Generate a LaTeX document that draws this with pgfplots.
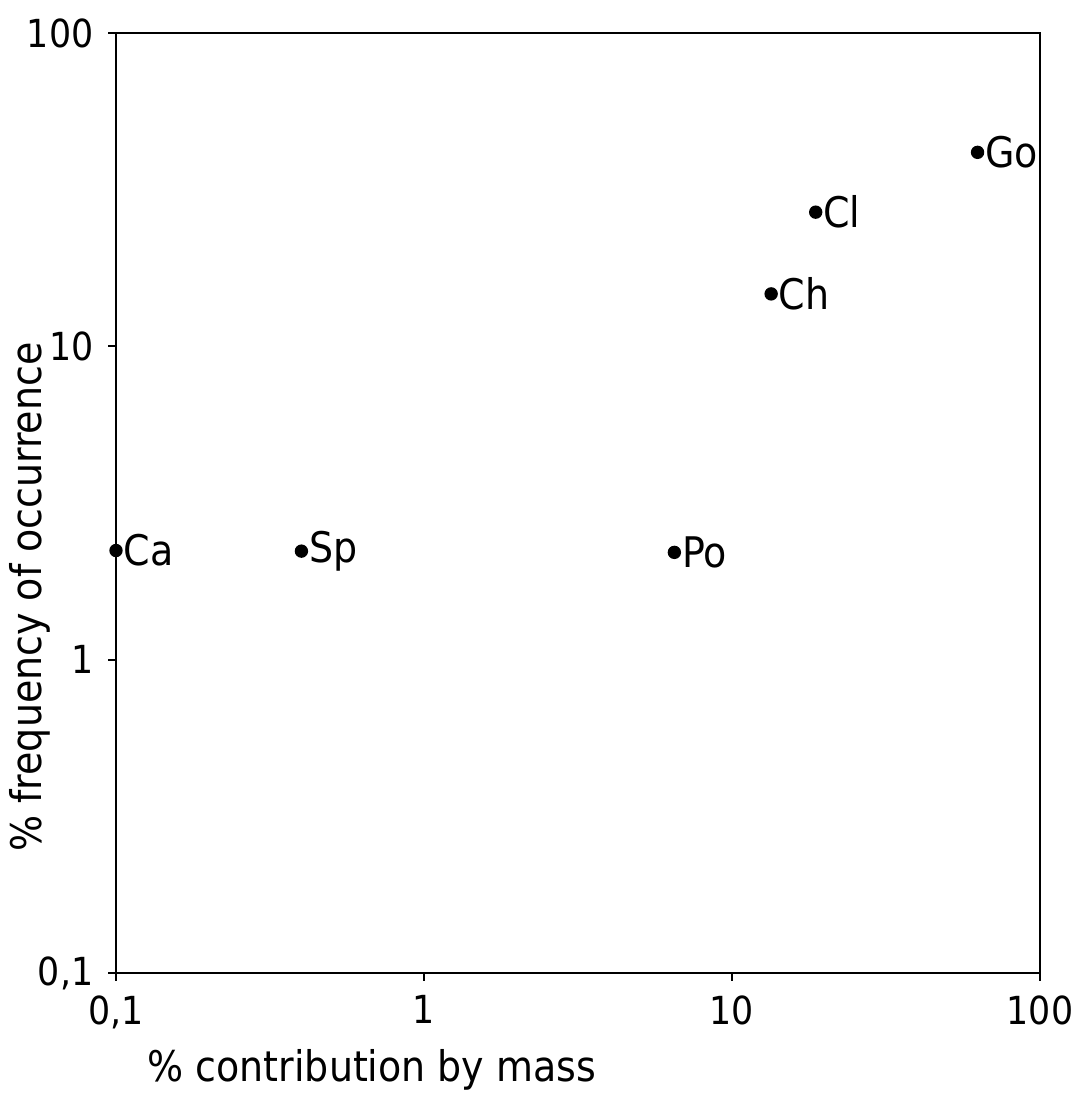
\documentclass[border=0pt]{standalone}
\usepackage{fontspec}
\setmainfont{DejaVu Sans Condensed}
\usepackage{pgfplots}
\pgfplotsset{compat=1.18}
\usetikzlibrary{calc}

\begin{document}
\begin{tikzpicture}
\fontsize{12}{14}\selectfont
\begin{axis}[
scale only axis,
width=9.24cm,
height=9.40cm,
xmode=log, ymode=log,
xmin=0.1, xmax=100,
ymin=0.1, ymax=100,
xtick={0.1,1,10,100},
xticklabels={{0,1},1,10,100},
ytick={0.1,1,10,100},
yticklabels={{0,1},1,10,100},
xminorticks=false, yminorticks=false,
tick label style={font=\fontsize{11}{13}\selectfont},
tick pos=left,
tick align=outside,
major tick length=0.08cm,
axis line style={line width=0.6pt},
every tick/.style={line width=0.6pt,black},
xlabel={\% contribution by mass},
ylabel={\% frequency of occurrence},
xlabel style={at={(axis description cs:0.277,-0.103)},anchor=center},
ylabel style={at={(axis description cs:-0.093,0.40)},anchor=center},
clip=false,
]
\addplot[only marks,mark=*,mark size=1.7pt,black,
  nodes near coords,point meta=explicit symbolic,
  nodes near coords style={anchor=west,inner sep=2pt,font=\fontsize{12}{14}\selectfont}]
table[meta=lab] {
x y lab
0.1 2.23 Ca
0.40 2.22 Sp
6.5 2.2 Po
13.4 14.7 Ch
18.7 26.8 Cl
62.7 41.6 Go
};
\coordinate (bl) at (rel axis cs:0,0);
\coordinate (tr) at (rel axis cs:1,1);
\end{axis}
\pgfresetboundingbox
\path[use as bounding box] ($(bl)+(-1.16,-1.20)$) rectangle ($(tr)+(0.39,0.33)$);
\end{tikzpicture}
\end{document}
